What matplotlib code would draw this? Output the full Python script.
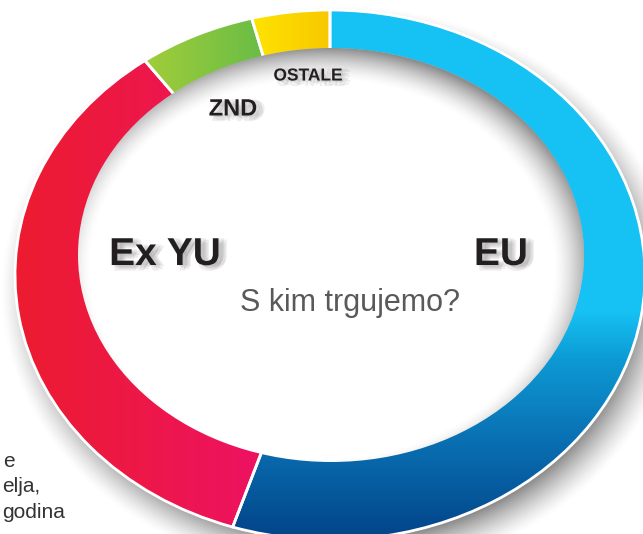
import numpy as np
import matplotlib.pyplot as plt
import matplotlib.patheffects as pe
from matplotlib.patches import Ellipse
from matplotlib.colors import LinearSegmentedColormap

# podaci
regije = ['EU', 'Ex YU', 'ZND', 'OSTALE']
udjeli = [55, 35, 6, 4]
naslov = 'S kim trgujemo?'
tekst_lijevo = ['e', 'elja,', 'godina']

W, H = 643, 534
# vanjska i unutarnja elipsa u pikselima (cx, cy, rx, ry)
OCX, OCY, ORX, ORY = 330, 275, 315, 265
ICX, ICY, IRX, IRY = 331, 255, 253, 207


def u(px):
    return (px - OCX) / ORX


def v(py):
    return (OCY - py) / ORY


fig = plt.figure(figsize=(W / 100, H / 100), dpi=100)
ax = fig.add_axes([0, 0, 1, 1])

wedges, _ = ax.pie(udjeli, startangle=90, counterclock=False, radius=1,
                   wedgeprops=dict(edgecolor='white', linewidth=2))

ext = (u(0), u(W), v(H), v(0))
gx, gy = np.meshgrid(np.arange(W) + 0.5, np.arange(H) + 0.5)

# prijelazi boja po segmentima
prijelazi = {
    'EU': ('y', [(0, '#16C1F3'), (312, '#16C1F3'), (360, '#0D9AD4'),
                 (430, '#0A75B7'), (534, '#03468B')]),
    'Ex YU': ('x', [(0, '#EC1C2D'), (130, '#ED1846'), (260, '#EE1262')]),
    'ZND': ('x', [(130, '#A9CF38'), (260, '#6BBD46')]),
    'OSTALE': ('x', [(245, '#FFE600'), (335, '#F7C600')]),
}

for w, ime in zip(wedges, regije):
    os_, stops = prijelazi[ime]
    lo, hi = stops[0][0], stops[-1][0]
    cmap = LinearSegmentedColormap.from_list(
        ime, [((p - lo) / (hi - lo), c) for p, c in stops])
    coord = gy if os_ == 'y' else gx
    val = np.clip((coord - lo) / (hi - lo), 0, 1)
    im = ax.imshow(val, cmap=cmap, vmin=0, vmax=1, extent=ext, aspect='auto',
                   origin='upper', interpolation='bilinear', zorder=1)
    im.set_clip_path(w)
    w.set_facecolor('none')
    w.set_zorder(2)

# sjena izvana
ro = np.sqrt(((gx - (OCX + 10)) / ORX) ** 2 + ((gy - (OCY + 16)) / ORY) ** 2)
a = np.clip((1.08 - ro) / 0.14, 0, 1) ** 1.4 * 0.45
sh = np.zeros((H, W, 4))
sh[..., 3] = a
ax.imshow(sh, extent=ext, origin='upper', aspect='auto', zorder=0.5)

# rupa
rupa = Ellipse((u(ICX), v(ICY)), 2 * IRX / ORX, 2 * IRY / ORY,
               facecolor='white', edgecolor='none', zorder=3)
ax.add_patch(rupa)

# sjena iznutra
ri = np.sqrt(((gx - (ICX - 9)) / IRX) ** 2 + ((gy - (ICY + 14)) / IRY) ** 2)
a = np.clip((ri - 0.91) / 0.16, 0, 1) ** 1.6 * 0.45
sh = np.zeros((H, W, 4))
sh[..., 3] = a
im = ax.imshow(sh, extent=ext, origin='upper', aspect='auto', zorder=4)
im.set_clip_path(rupa)

ax.set_aspect('auto')
ax.set_xlim(u(0), u(W))
ax.set_ylim(v(H), v(0))
ax.axis('off')

sjena = [pe.SimplePatchShadow(offset=(dx, dy), shadow_rgbFace='#777777', alpha=0.12)
         for dx, dy in [(1, -1), (3, -2), (5, -3), (2, -4), (4, 0), (6, -1)]] + [pe.Normal()]


def fx(px):
    return px / W


def fy(py):
    return 1 - py / H


lab_pos = {'EU': (501, 255, 28), 'Ex YU': (165, 255, 28),
           'ZND': (233, 109, 17), 'OSTALE': (308, 76, 12.5)}
for ime in regije:
    px, py, fs = lab_pos[ime]
    fig.text(fx(px), fy(py), ime, ha='center', va='center', fontsize=fs,
             fontweight='bold', family=['Liberation Sans', 'DejaVu Sans'],
             color='#231F20', path_effects=sjena, zorder=6)

fig.text(fx(350), fy(311), naslov, ha='center', va='baseline', fontsize=22,
         family=['Liberation Sans', 'DejaVu Sans'], color='#58595B', zorder=6)

for t, (px, py) in zip(tekst_lijevo, [(15, 467), (40, 492), (65, 518)]):
    fig.text(fx(px), fy(py), t, ha='right', va='baseline', fontsize=15,
             family=['Liberation Sans', 'DejaVu Sans'], color='#333333', zorder=6)

fig.savefig('out.png', dpi=100)
